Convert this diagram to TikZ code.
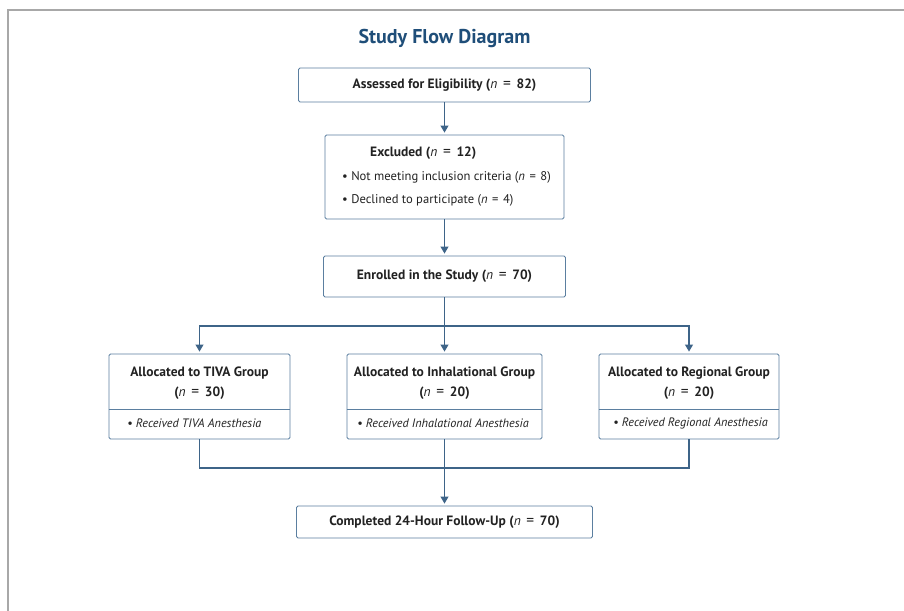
\documentclass[tikz,border=0pt]{standalone}
\usepackage{fontspec}
\setmainfont{PT Sans}
\usetikzlibrary{arrows.meta}
\definecolor{navy}{HTML}{1F4E79}
\definecolor{boxc}{HTML}{5B7FA0}
\definecolor{linec}{HTML}{3E6488}
\definecolor{txt}{HTML}{222222}
\definecolor{framec}{HTML}{A8A8A8}
\newcommand{\nq}[2][0.42em]{{\mdseries\itshape n}\hspace{#1}{\mdseries\fontsize{15.5}{15}\selectfont =}\hspace{#1}#2}
\newcommand{\nb}[1]{{\itshape n}\hspace{0.36em}=\hspace{0.36em}#1}
\begin{document}
\begin{tikzpicture}[x=1pt,y=-1pt,
  box/.style={draw=boxc, line width=0.9pt, rounded corners=1.5pt, inner sep=0pt, text=txt},
  hd/.style={font=\fontsize{13.5}{15}\selectfont\bfseries, text=txt, inner sep=0pt},
  bul/.style={font=\fontsize{12.6}{14}\selectfont, text=txt, inner sep=0pt, anchor=west},
  ibul/.style={font=\fontsize{12.2}{14}\selectfont\itshape, text=txt, inner sep=0pt, anchor=west},
  conn/.style={draw=linec, line width=1.1pt},
  arr/.style={conn, -{Triangle[width=8pt,length=7pt]}, shorten >=2pt}]
\useasboundingbox (0,0) rectangle (904,610);
\fill[white] (0,0) rectangle (904,610);
\draw[framec, line width=2pt] (8,611) -- (8,10) -- (905,10);

\node[font=\fontsize{20}{24}\selectfont\bfseries, text=navy, inner sep=0pt] (title) at (444.5,38) {Study Flow Diagram};

\node[box, minimum width=292pt, minimum height=34pt] (assess) at (444.5,85) {};
\node[hd] (assesst) at (assess) {Assessed for Eligibility (\nq{82})};

\node[box, minimum width=239pt, minimum height=84pt] (excl) at (444.5,177) {};
\node[hd, anchor=west] (exclt) at (370,153) {Excluded (\nq{12})};
\node[bul] (exclb1) at (342,177) {\textbullet\ Not meeting inclusion criteria (\nb{8})};
\node[bul] (exclb2) at (342,200) {\textbullet\ Declined to participate (\nb{4})};

\node[box, minimum width=242pt, minimum height=41pt] (enrol) at (444.5,276.5) {};
\node[hd] (enrolt) at (enrol) {Enrolled in the Study (\nq{70})};

\node[box, minimum width=181pt, minimum height=85pt] (tiva) at (199.5,396.5) {};
\node[box, minimum width=195pt, minimum height=85pt] (inh) at (444.5,396.5) {};
\node[box, minimum width=180pt, minimum height=85pt] (reg) at (689,396.5) {};
\draw[boxc, line width=0.9pt] (tiva.west |- 0,409) -- (tiva.east |- 0,409);
\draw[boxc, line width=0.9pt] (inh.west |- 0,409) -- (inh.east |- 0,409);
\draw[boxc, line width=0.9pt] (reg.west |- 0,409) -- (reg.east |- 0,409);

\node[hd] (tivat1) at (199.5,373) {Allocated to TIVA Group};
\node[hd] (tivat2) at (199.5,393) {(\nq{30})};
\node[ibul] (tivab) at (127,423) {\textbullet\ Received TIVA Anesthesia};

\node[hd] (inht1) at (444.5,373) {Allocated to Inhalational Group};
\node[hd] (inht2) at (444.5,393) {(\nq{20})};
\node[ibul] (inhb) at (357,423) {\textbullet\ Received Inhalational Anesthesia};

\node[hd] (regt1) at (689,373) {Allocated to Regional Group};
\node[hd] (regt2) at (689,393) {(\nq{20})};
\node[ibul] (regb) at (613,423) {\textbullet\ Received Regional Anesthesia};

\node[box, minimum width=296pt, minimum height=32pt] (final) at (444.5,522) {};
\node[hd] (finalt) at (final) {Completed 24-Hour Follow-Up (\nq{70})};

\coordinate (jt) at (444.5,326);
\coordinate (jb) at (444.5,468);

\draw[arr] (assess.south) -- (excl.north);
\draw[arr] (excl.south) -- (enrol.north);
\draw[arr] (enrol.south) -- (inh.north);
\draw[arr] (jt) -| (tiva.north);
\draw[arr] (jt) -| (reg.north);
\draw[conn] (tiva.south) |- (jb);
\draw[conn] (reg.south) |- (jb);
\draw[arr] (inh.south) -- (final.north);
\end{tikzpicture}
\end{document}
